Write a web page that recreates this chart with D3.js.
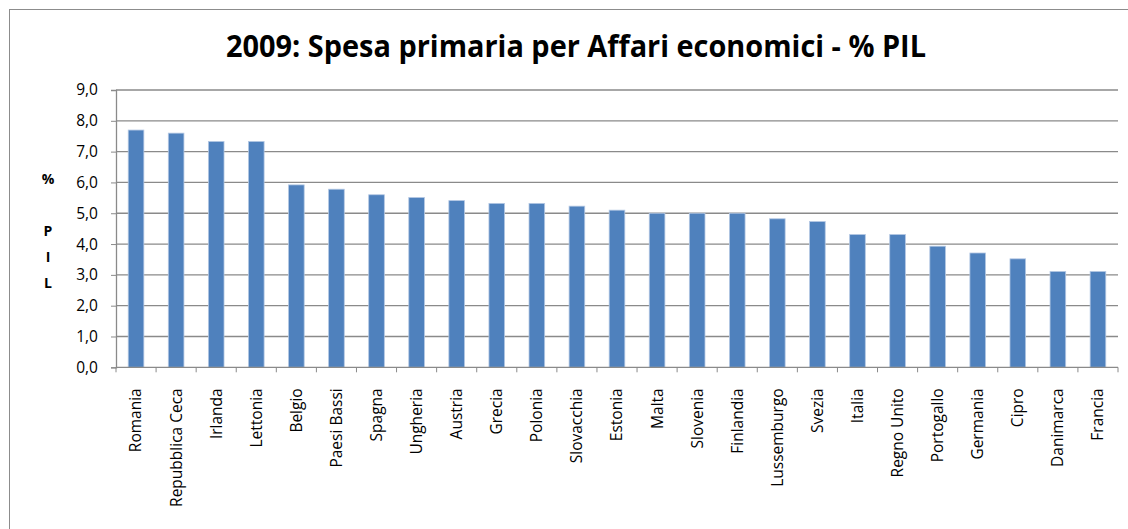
<!DOCTYPE html>
<html>
<head>
<meta charset="utf-8">
<script src="https://cdn.jsdelivr.net/npm/d3@7"></script>
<style>
  body { margin: 0; background: #fff; }
  text { font-family: "Open Sans", "DejaVu Sans", sans-serif; }
</style>
</head>
<body>
<div id="chart"></div>
<script>
// data
var countries = ["Romania", "Repubblica Ceca", "Irlanda", "Lettonia", "Belgio", "Paesi Bassi",
  "Spagna", "Ungheria", "Austria", "Grecia", "Polonia", "Slovacchia", "Estonia", "Malta",
  "Slovenia", "Finlandia", "Lussemburgo", "Svezia", "Italia", "Regno Unito", "Portogallo",
  "Germania", "Cipro", "Danimarca", "Francia"];
var values = [7.7, 7.6, 7.33, 7.33, 5.92, 5.78, 5.6, 5.51, 5.41, 5.32, 5.32, 5.23, 5.1, 5.0,
  5.0, 5.0, 4.82, 4.73, 4.31, 4.31, 3.93, 3.71, 3.52, 3.11, 3.11];
var yTicks = [0, 1, 2, 3, 4, 5, 6, 7, 8, 9];
var yTitle = ["%", "", "P", "I", "L"];
var title = "2009: Spesa primaria per Affari economici - % PIL";

var W = 1128, H = 529;
var margin = {top: 90, left: 116, right: 10, bottom: 162};
var width = 1118 - margin.left,
    height = 367.3 - margin.top;

var root = d3.select("#chart").append("svg")
    .attr("width", W)
    .attr("height", H);

// chart frame
root.append("rect")
    .attr("x", 9.5).attr("y", 9.5)
    .attr("width", W + 20).attr("height", H + 20)
    .attr("fill", "#fff")
    .attr("stroke", "#8c8c8c")
    .attr("stroke-width", 1);

root.append("text")
    .attr("x", 226).attr("y", 57)
    .attr("textLength", 700)
    .attr("lengthAdjust", "spacingAndGlyphs")
    .style("font-family", "'Liberation Sans Narrow', 'Open Sans', sans-serif")
    .style("font-weight", "bold")
    .style("font-size", "31px")
    .attr("fill", "#000")
    .text(title);

var svg = root.append("g")
    .attr("transform", "translate(" + margin.left + "," + margin.top + ")");

var x = d3.scaleBand()
    .domain(countries)
    .range([0, width])
    .paddingInner(0.61)
    .paddingOuter(0.305);

var y = d3.scaleLinear()
    .domain([0, 9])
    .range([height, 0]);

// grid lines
svg.append("g")
  .selectAll("line")
  .data(yTicks.filter(function(d) { return d > 0; }))
  .enter().append("line")
    .attr("x1", 0).attr("x2", width)
    .attr("y1", function(d) { return y(d); })
    .attr("y2", function(d) { return y(d); })
    .attr("stroke", "#8a8a8a")
    .attr("stroke-width", 1.3);

// bars
svg.append("g")
  .selectAll("rect")
  .data(countries)
  .enter().append("rect")
    .attr("x", function(d) { return x(d); })
    .attr("y", function(d, i) { return y(values[i]); })
    .attr("width", x.bandwidth())
    .attr("height", function(d, i) { return height - y(values[i]); })
    .attr("fill", "#4f81bd")
    .attr("stroke", "#b3c7e3")
    .attr("stroke-width", 0.8);

// y axis
var yAxis = svg.append("g")
    .call(d3.axisLeft(y)
      .tickValues(yTicks)
      .tickSize(5)
      .tickPadding(13)
      .tickFormat(function(d) { return d3.format(".1f")(d).replace(".", ","); }));
yAxis.select(".domain").attr("stroke", "#8a8a8a").attr("stroke-width", 1.3);
yAxis.selectAll(".tick line").attr("stroke", "#8a8a8a");
yAxis.selectAll(".tick text")
    .style("font-size", "15.5px")
    .attr("fill", "#000");

// x axis with ticks between categories
var xb = svg.append("g").attr("transform", "translate(0," + height + ")");
xb.append("line")
    .attr("x1", 0).attr("x2", width)
    .attr("stroke", "#8a8a8a").attr("stroke-width", 1.3);
xb.selectAll(".sep")
  .data(d3.range(countries.length + 1))
  .enter().append("line")
    .attr("class", "sep")
    .attr("x1", function(i) { return i * x.step(); })
    .attr("x2", function(i) { return i * x.step(); })
    .attr("y1", 0).attr("y2", 5)
    .attr("stroke", "#8a8a8a");
xb.selectAll(".lab")
  .data(countries)
  .enter().append("text")
    .attr("class", "lab")
    .attr("transform", function(d) {
      return "translate(" + (x(d) + x.bandwidth() / 2) + ",21) rotate(-90)";
    })
    .attr("text-anchor", "end")
    .attr("dy", "0.35em")
    .style("font-size", "15.5px")
    .attr("fill", "#000")
    .text(function(d) { return d; });

// y title, stacked letters
root.append("g")
  .selectAll("text")
  .data(yTitle)
  .enter().append("text")
    .attr("x", 48)
    .attr("y", function(d, i) { return 184 + i * 26; })
    .attr("text-anchor", "middle")
    .style("font-weight", "bold")
    .style("font-size", "14px")
    .text(function(d) { return d; });
</script>
</body>
</html>
